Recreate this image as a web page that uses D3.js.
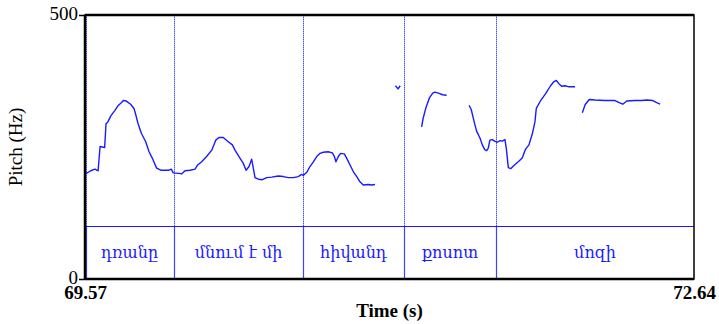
<!DOCTYPE html>
<html>
<head>
<meta charset="utf-8">
<script src="https://cdn.jsdelivr.net/npm/d3@7"></script>
<style>
  html, body { margin: 0; padding: 0; background: #fff; }
  svg { display: block; }
</style>
</head>
<body>
<svg id="chart" width="719" height="324"></svg>
<script>
// Time window and pitch range
const timeRange = [69.57, 72.64];
const pitchRange = [0, 500];
const pitchTicks = [0, 500];
const timeTicks = [69.57, 72.64];

// Pitch contour pieces (time in s, F0 in Hz); gaps are unvoiced stretches
const seg1Time = [69.573, 69.599, 69.620, 69.636, 69.646, 69.669, 69.676, 69.686, 69.700, 69.720,
  69.736, 69.753, 69.763, 69.778, 69.800, 69.817, 69.826, 69.837, 69.854, 69.876,
  69.893, 69.909, 69.931, 69.952, 69.993, 70.005, 70.015, 70.044, 70.057, 70.074,
  70.099, 70.125, 70.138, 70.158, 70.183, 70.209, 70.229, 70.245, 70.267, 70.289,
  70.313, 70.326, 70.351, 70.368, 70.382, 70.397, 70.410, 70.418, 70.427, 70.444,
  70.464, 70.486, 70.511, 70.544, 70.570, 70.595, 70.620, 70.645, 70.662, 70.670,
  70.688, 70.704, 70.721, 70.738, 70.755, 70.771, 70.796, 70.817, 70.827, 70.835,
  70.847, 70.859, 70.877, 70.889, 70.906, 70.923, 70.940, 70.956, 70.973, 70.998,
  71.015, 71.032];
const seg1Hz = [199, 205, 208, 205, 251, 249, 294, 298, 309, 319,
  328, 334, 338, 337, 331, 323, 311, 295, 276, 260,
  241, 229, 210, 206, 206, 208, 201, 200, 199, 205,
  206, 208, 216, 222, 232, 244, 263, 268, 268, 261,
  254, 244, 229, 219, 206, 213, 227, 211, 192, 189,
  188, 192, 193, 195, 194, 192, 192, 194, 198, 196,
  202, 213, 222, 232, 238, 240, 241, 239, 232, 222,
  232, 238, 237, 229, 216, 203, 194, 184, 178, 179,
  178, 179];

const seg2Time = [71.135, 71.148, 71.159];
const seg2Hz = [366, 360, 366];

const seg3Time = [71.267, 71.275, 71.289, 71.306, 71.323, 71.334, 71.351, 71.373, 71.393];
const seg3Hz = [288, 305, 325, 343, 352, 354, 352, 349, 348];

const seg4Time = [71.506, 71.517, 71.531, 71.544, 71.561, 71.573, 71.585, 71.595, 71.603, 71.611,
  71.623, 71.635, 71.648, 71.662, 71.673, 71.687, 71.694, 71.704, 71.716, 71.732,
  71.754, 71.774, 71.791, 71.808, 71.825, 71.838, 71.845, 71.867, 71.892, 71.917,
  71.934, 71.946, 71.959, 71.973, 71.990, 72.010, 72.040];
const seg4Hz = [329, 321, 299, 280, 267, 254, 245, 243, 248, 263,
  264, 261, 259, 262, 261, 264, 247, 211, 209, 215,
  222, 229, 246, 254, 275, 297, 323, 338, 351, 366,
  374, 376, 370, 365, 366, 364, 364];

const seg5Time = [72.077, 72.091, 72.112, 72.141, 72.191, 72.242, 72.263, 72.281, 72.301, 72.343,
  72.376, 72.402, 72.432, 72.452, 72.469];
const seg5Hz = [315, 330, 340, 339, 338, 338, 334, 331, 337, 338,
  338, 339, 338, 334, 331];

// Word tier: interval boundaries and labels
const boundaries = [69.57, 70.019, 70.669, 71.178, 71.642, 72.64];
const words = ["դռանը", "մնում է մի", "հիվանդ", "քոսոտ", "մոզի"];

const segments = [
  [seg1Time, seg1Hz], [seg2Time, seg2Hz], [seg3Time, seg3Hz],
  [seg4Time, seg4Hz], [seg5Time, seg5Hz]
].map(([t, f]) => t.map((v, i) => ({ t: v, hz: f[i] })));

const svg = d3.select("#chart");
const plotLeft = 85, plotRight = 694, plotTop = 15, plotBottom = 279, tierTop = 226;

const x = d3.scaleLinear().domain(timeRange).range([plotLeft, plotRight]);
const y = d3.scaleLinear().domain(pitchRange).range([plotBottom, plotTop]);

const blue = "#1a1aff";

// Boundary lines: dotted across the pitch area, solid inside the tier
const inner = boundaries.slice(0, -1);
const bx = d => Math.round(x(d)) + (d === timeRange[0] ? 1.5 : 0.5);
svg.append("g").selectAll("line").data(inner).join("line")
  .attr("x1", bx).attr("x2", bx)
  .attr("y1", plotTop).attr("y2", tierTop)
  .attr("stroke", "#b0b0ff").attr("stroke-width", 1);
svg.append("g").selectAll("line").data(inner).join("line")
  .attr("x1", bx).attr("x2", bx)
  .attr("y1", plotTop).attr("y2", tierTop)
  .attr("stroke", "#4d4dff").attr("stroke-width", 1)
  .attr("stroke-dasharray", "1,1");
svg.append("g").selectAll("line").data(inner).join("line")
  .attr("x1", bx).attr("x2", bx)
  .attr("y1", tierTop).attr("y2", plotBottom)
  .attr("stroke", "#4040ff").attr("stroke-width", 1.2);

// Tier top line
svg.append("line")
  .attr("x1", plotLeft).attr("x2", plotRight)
  .attr("y1", tierTop + 0.5).attr("y2", tierTop + 0.5)
  .attr("stroke", blue).attr("stroke-width", 1.2);

// Word labels centred in their intervals
svg.append("g").selectAll("text").data(words).join("text")
  .attr("x", (d, i) => (x(boundaries[i]) + x(boundaries[i + 1])) / 2)
  .attr("y", (tierTop + plotBottom) / 2)
  .attr("dy", "0.35em")
  .attr("text-anchor", "middle")
  .attr("font-family", "'DejaVu Serif', serif")
  .attr("font-size", 16)
  .attr("fill", blue)
  .text(d => d);

// Pitch contour
const line = d3.line().x(d => x(d.t)).y(d => y(d.hz));
svg.append("g").selectAll("path").data(segments).join("path")
  .attr("d", line)
  .attr("fill", "none")
  .attr("stroke", blue)
  .attr("stroke-width", 1.4)
  .attr("stroke-linejoin", "round");

// Frame
svg.append("rect")
  .attr("x", plotLeft).attr("y", plotTop)
  .attr("width", plotRight - plotLeft).attr("height", plotBottom - plotTop)
  .attr("fill", "none").attr("stroke", "#000").attr("stroke-width", 1.5);
svg.append("line").attr("x1", plotLeft).attr("x2", plotRight).attr("y1", plotTop).attr("y2", plotTop)
  .attr("stroke", "#000").attr("stroke-width", 2.5);
svg.append("line").attr("x1", plotLeft).attr("x2", plotLeft).attr("y1", plotTop).attr("y2", plotBottom)
  .attr("stroke", "#000").attr("stroke-width", 2.5);
svg.append("line").attr("x1", plotLeft).attr("x2", plotRight).attr("y1", plotBottom).attr("y2", plotBottom)
  .attr("stroke", "#000").attr("stroke-width", 2.5);

// Pitch axis
const yAxis = svg.append("g")
  .attr("transform", `translate(${plotLeft},0)`)
  .call(d3.axisLeft(y).tickValues(pitchTicks).tickSize(6).tickPadding(1).tickFormat(d3.format("d")));
yAxis.select(".domain").remove();
yAxis.selectAll(".tick line").attr("stroke", "#000").attr("stroke-width", 1.5);
yAxis.selectAll(".tick text")
  .attr("dy", "0.24em")
  .attr("font-family", "'Liberation Serif', serif")
  .attr("font-size", 19).attr("fill", "#000");

// Time axis: only the window edges are labelled
const xAxis = svg.append("g")
  .attr("transform", `translate(0,${plotBottom})`)
  .call(d3.axisBottom(x).tickValues(timeTicks).tickSize(0).tickPadding(7).tickFormat(d3.format(".2f")));
xAxis.select(".domain").remove();
xAxis.selectAll(".tick text")
  .attr("font-family", "'Liberation Serif', serif")
  .attr("font-weight", "bold")
  .attr("font-size", 19).attr("fill", "#000");

// Axis titles
svg.append("text")
  .attr("x", (plotLeft + plotRight) / 2).attr("y", 317)
  .attr("text-anchor", "middle")
  .attr("font-family", "'Liberation Serif', serif")
  .attr("font-weight", "bold").attr("font-size", 19)
  .text("Time (s)");
svg.append("text")
  .attr("transform", `translate(22,${(plotTop + plotBottom) / 2}) rotate(-90)`)
  .attr("text-anchor", "middle")
  .attr("font-family", "'Liberation Serif', serif")
  .attr("font-size", 19)
  .text("Pitch (Hz)");
</script>
</body>
</html>
